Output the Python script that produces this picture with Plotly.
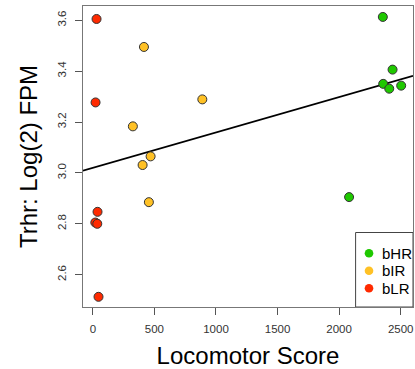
import plotly.graph_objects as go

# Data
hr_x = [2355, 2434, 2358, 2407, 2504, 2081]
hr_y = [3.613, 3.406, 3.350, 3.331, 3.343, 2.905]
ir_x = [415, 889, 325, 469, 404, 455]
ir_y = [3.495, 3.289, 3.183, 3.065, 3.031, 2.885]
lr_x = [30, 22, 38, 20, 36, 46]
lr_y = [3.605, 3.277, 2.847, 2.805, 2.800, 2.513]

groups = ["bHR", "bIR", "bLR"]
colors = ["#1FC800", "#FFC125", "#FF2A00"]

fit_intercept = 3.020
fit_slope = 0.000139
x_range = [-80, 2600]
y_range = [2.473, 3.656]
x_ticks = [0, 500, 1000, 1500, 2000, 2500]
y_ticks = [2.6, 2.8, 3.0, 3.2, 3.4, 3.6]

FONT = "Liberation Sans, Arial, Helvetica, sans-serif"

W, H = 415, 369
ML, MR, MT, MB = 83, 2, 6, 62
PW, PH = W - ML - MR, H - MT - MB

fig = go.Figure()

# regression line across full axis range
fig.add_trace(go.Scatter(
    x=x_range,
    y=[fit_intercept + fit_slope * v for v in x_range],
    mode="lines", line=dict(color="black", width=1.6),
    showlegend=False, hoverinfo="skip"))

for xs, ys, col in [(lr_x, lr_y, colors[2]), (ir_x, ir_y, colors[1]), (hr_x, hr_y, colors[0])]:
    fig.add_trace(go.Scatter(
        x=xs, y=ys, mode="markers",
        marker=dict(color=col, size=9, line=dict(color="#333333", width=1)),
        showlegend=False))

# legend box (bottom right, drawn manually)
shapes = [dict(type="rect", xref="paper", yref="paper",
               x0=(355.6 - ML) / PW, x1=1.0, y0=0.0, y1=(H - MB - 232.5) / PH,
               line=dict(color="#444444", width=1), fillcolor="white", layer="below")]
annotations = []
leg_rows_px = [253.3, 270.8, 288.3]
r = 4.3
for g, col, yp in zip(groups, colors, leg_rows_px):
    cx = (369 - ML) / PW
    cy = (H - MB - yp) / PH
    shapes.append(dict(type="circle", xref="paper", yref="paper",
                       x0=cx - r / PW, x1=cx + r / PW, y0=cy - r / PH, y1=cy + r / PH,
                       fillcolor=col, line=dict(width=0), layer="above"))
    annotations.append(dict(xref="paper", yref="paper", x=(379.5 - ML) / PW, y=cy,
                            xanchor="left", yanchor="middle", showarrow=False,
                            text=g, font=dict(size=15, color="black", family=FONT)))

fig.update_layout(
    width=W, height=H,
    margin=dict(l=ML, r=MR, t=MT, b=MB),
    plot_bgcolor="white", paper_bgcolor="white",
    font=dict(family=FONT, color="#222222"),
    showlegend=False,
    shapes=shapes, annotations=annotations,
)

fig.update_xaxes(
    range=x_range, tickvals=x_ticks, ticks="outside", ticklen=7,
    tickcolor="#555555", tickfont=dict(size=11.5, color="#333333"),
    ticklabelstandoff=4,
    showline=True, linecolor="#777777", linewidth=1, mirror=True,
    showgrid=False, zeroline=False,
    title=dict(text="Locomotor Score", font=dict(size=24, color="black"), standoff=13))
fig.update_yaxes(
    range=y_range, tickvals=y_ticks, tickformat=".1f", ticks="outside", ticklen=7,
    tickcolor="#555555", tickfont=dict(size=11.5, color="#333333"), tickangle=-90,
    ticklabelstandoff=4,
    showline=True, linecolor="#777777", linewidth=1, mirror=True,
    showgrid=False, zeroline=False,
    title=dict(text="Trhr: Log(2) FPM", font=dict(size=24, color="black"), standoff=12))

fig.write_html("out.html")
